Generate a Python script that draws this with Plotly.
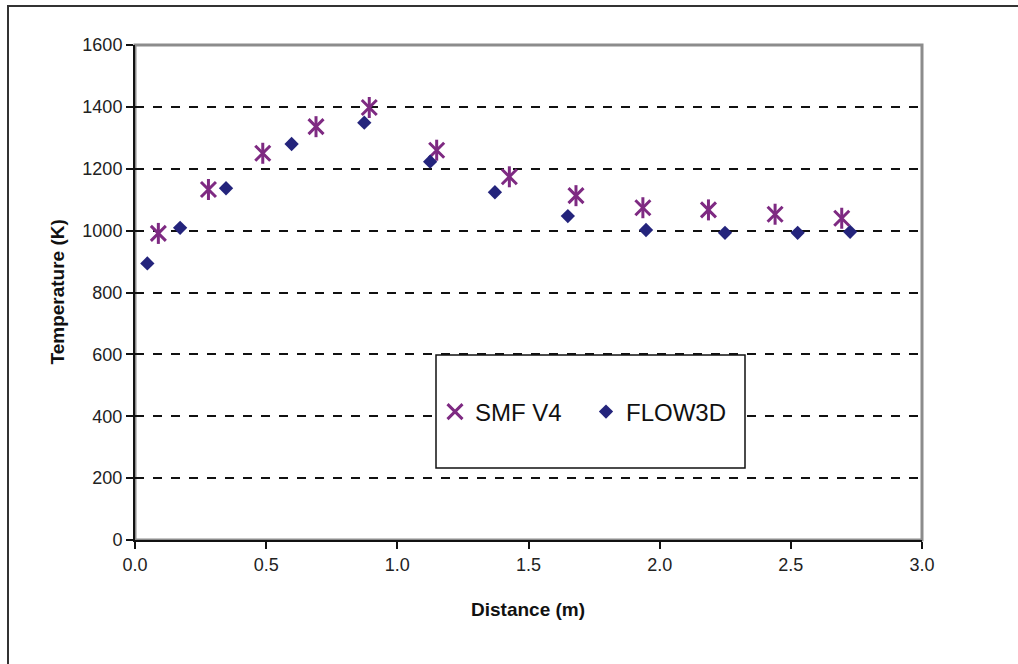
import plotly.graph_objects as go

smf_x = [0.089, 0.28, 0.487, 0.69, 0.893, 1.150, 1.427, 1.681, 1.936, 2.186, 2.44, 2.694]
smf_t = [991, 1133, 1250, 1336, 1398, 1260, 1174, 1113, 1074, 1067, 1053, 1040]

flow_x = [0.047, 0.172, 0.347, 0.597, 0.874, 1.125, 1.372, 1.65, 1.948, 2.249, 2.526, 2.726]
flow_t = [894, 1009, 1137, 1280, 1349, 1223, 1124, 1047, 1002, 993, 993, 996]

x_ticks = [0.0, 0.5, 1.0, 1.5, 2.0, 2.5, 3.0]
y_ticks = [0, 200, 400, 600, 800, 1000, 1200, 1400, 1600]

PURPLE = "#7E2A82"
NAVY = "#24247C"
FONT = "Liberation Sans, Arial, sans-serif"

W, H = 1018, 664
L, R, T, B = 135, 96, 45, 124
pw, ph = W - L - R, H - T - B

def px(xp):
    return (xp - L) / pw

def py(yp):
    return (H - B - yp) / ph

fig = go.Figure()
fig.add_trace(go.Scatter(
    x=smf_x, y=smf_t, mode="markers", name="SMF V4",
    marker=dict(symbol="x-thin-open", size=15, color=PURPLE,
                line=dict(color=PURPLE, width=3)),
    legendrank=1,
))
fig.add_trace(go.Scatter(
    x=smf_x, y=smf_t, mode="markers", name="SMF V4", showlegend=False,
    marker=dict(symbol="line-ns-open", size=15, color=PURPLE,
                line=dict(color=PURPLE, width=3)),
))
fig.add_trace(go.Scatter(
    x=flow_x, y=flow_t, mode="markers", name="FLOW3D",
    marker=dict(symbol="diamond", size=11, color=NAVY,
                line=dict(color=NAVY, width=0)),
    legendrank=2,
))

shapes = [
    # outer frame
    dict(type="rect", xref="paper", yref="paper",
         x0=px(8), x1=px(1040), y0=py(6), y1=py(700),
         line=dict(color="#333333", width=2), layer="below"),
    # plot area frame (gray)
    dict(type="rect", xref="paper", yref="paper",
         x0=0, x1=1, y0=0, y1=1,
         line=dict(color="#8C8C8C", width=3), layer="below"),
    # legend box
    dict(type="rect", xref="paper", yref="paper",
         x0=px(436), x1=px(745), y0=py(355), y1=py(468),
         line=dict(color="#111111", width=1.5), fillcolor="white", layer="above"),
]

fig.update_layout(
    width=W, height=H,
    margin=dict(l=L, r=R, t=T, b=B),
    paper_bgcolor="white", plot_bgcolor="white",
    font=dict(family=FONT, color="#111111"),
    showlegend=True,
    legend=dict(
        orientation="h",
        x=px(435), y=py(412), xanchor="left", yanchor="middle",
        bgcolor="rgba(0,0,0,0)", borderwidth=0,
        font=dict(size=24, family=FONT, color="#111111"),
        entrywidth=106, entrywidthmode="pixels",
    ),
    shapes=shapes,
    annotations=[
        dict(text="<b>Temperature (K)</b>", xref="paper", yref="paper",
             x=px(57), y=py(292.5), xanchor="center", yanchor="middle",
             textangle=-90, showarrow=False,
             font=dict(size=19, family=FONT, color="#111111")),
        dict(text="<b>Distance (m)</b>", xref="paper", yref="paper",
             x=px(528), y=py(609), xanchor="center", yanchor="middle",
             showarrow=False,
             font=dict(size=19, family=FONT, color="#111111")),
    ],
)

fig.update_xaxes(
    range=[0, 3], tickvals=x_ticks, ticktext=[f"{v:.1f}" for v in x_ticks],
    showgrid=False, zeroline=False,
    showline=True, linecolor="#111111", linewidth=2,
    ticks="outside", ticklen=7, tickwidth=1.5, tickcolor="#111111",
    tickfont=dict(size=18, family=FONT, color="#222222"),
)
fig.update_yaxes(
    range=[0, 1600], tickvals=y_ticks,
    showgrid=True, gridcolor="#111111", gridwidth=1.5, griddash="dash",
    zeroline=False,
    showline=True, linecolor="#111111", linewidth=2,
    ticks="outside", ticklen=7, tickwidth=1.5, tickcolor="#111111",
    tickfont=dict(size=18, family=FONT, color="#222222"),
)

fig.write_html("out.html")
